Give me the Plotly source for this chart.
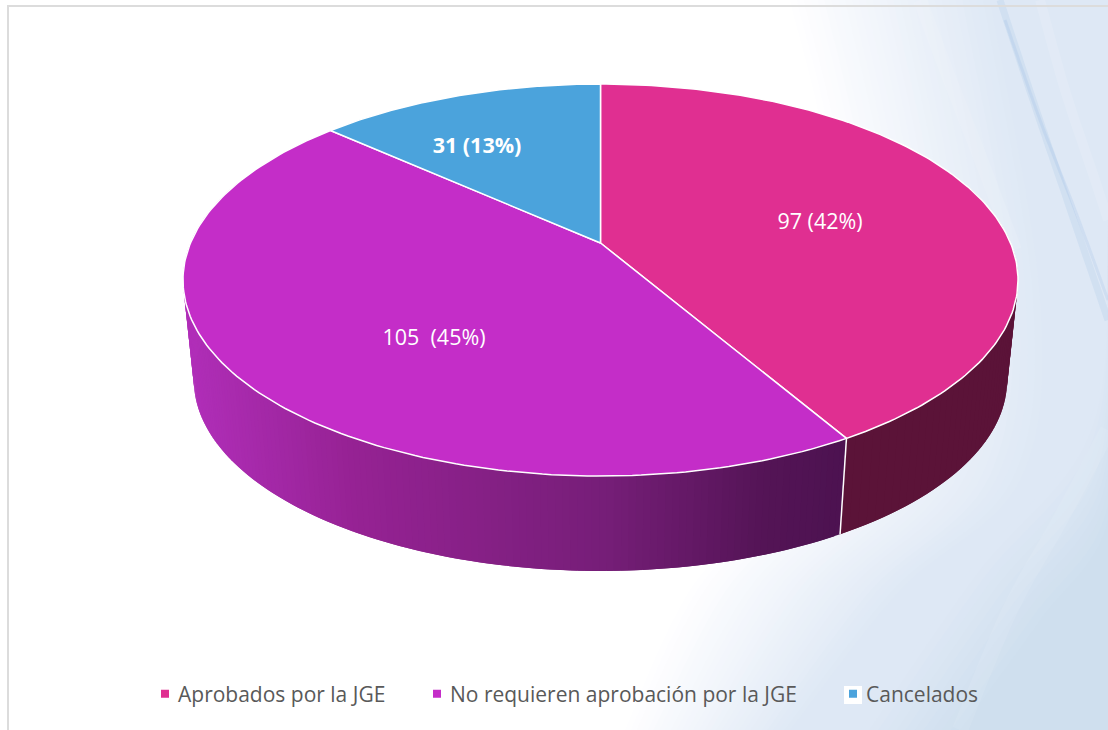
import numpy as np
import plotly.graph_objects as go

# ---- data ----
categories = ["Aprobados por la JGE", "No requieren aprobación por la JGE", "Cancelados"]
values = [97, 105, 31]
value_labels = ["97 (42%)", "105\u00a0 (45%)", "31 (13%)"]

# ---- style ----
top_colors = ["#E02F91", "#C42DC8", "#4BA3DC"]
FONT = "Open Sans"
W, H = 1108, 730
# perspective disc: apex position, radii and foreshortening
CX, CY, A, B, K = 600.5, 243.0, 410.0, 189.0, 0.1888
WALL_SCALE, WALL_DROP = 0.974, 101.0


def rim(theta_deg, scale=1.0, drop=0.0):
    t = np.radians(theta_deg)
    u, v = np.sin(t), np.cos(t)
    w = 1 + K * v
    return CX + scale * A * u / w, CY + drop - scale * B * v / w


def mix(stops, x):
    xs = [s[0] for s in stops]
    return "rgb({:.0f},{:.0f},{:.0f})".format(*[np.interp(x, xs, [s[1][i] for s in stops]) for i in range(3)])


def smooth(pts, n=14):
    p = np.array([pts[0]] + list(pts) + [pts[-1]], float)
    out = []
    for i in range(1, len(p) - 2):
        for s in np.linspace(0, 1, n, endpoint=False):
            out.append(0.5 * ((2 * p[i]) + (p[i + 1] - p[i - 1]) * s
                              + (2 * p[i - 1] - 5 * p[i] + 4 * p[i + 1] - p[i + 2]) * s ** 2
                              + (3 * p[i] - p[i - 1] - 3 * p[i + 1] + p[i + 2]) * s ** 3))
    out.append(p[-1])
    return np.array(out)


def path(points, close=True):
    d = "M " + " L ".join(f"{x:.1f} {y:.1f}" for x, y in points)
    return d + (" Z" if close else "")


shapes = []


def band(outer, inner, layers, c0, c1):
    for i in range(layers):
        f = i / max(layers - 1, 1)
        edge = smooth([(a[0] + (b[0] - a[0]) * f, a[1] + (b[1] - a[1]) * f) for a, b in zip(outer, inner)])
        poly = list(map(tuple, edge)) + [(W, H), (W, 0)]
        shapes.append(dict(type="path", path=path(poly), xref="x", yref="y", layer="below",
                           line=dict(width=0), fillcolor=mix([(0, c0), (1, c1)], f)))


# soft background wash, opaque nested layers from white to pale blue
band([(790, 0), (830, 200), (800, 450), (690, 590), (625, 730)],
     [(990, 0), (1040, 300), (1020, 480), (900, 590), (790, 730)], 30, (254, 254, 255), (222, 232, 245))
band([(1108, 0), (1108, 200), (1090, 420), (970, 570), (860, 730)],
     [(1108, 0), (1108, 340), (1108, 520), (1040, 620), (960, 730)], 12, (222, 232, 245), (207, 223, 238))

# streaks in the wash
for pts, width, col in [
    ([(1000, 0), (1033, 100), (1067, 200), (1108, 320)], 7, "rgba(150,188,228,0.18)"),
    ([(1005, 20), (1040, 120), (1075, 210), (1108, 300)], 3, "rgba(140,180,225,0.18)"),
    ([(1040, 0), (1065, 90), (1095, 180), (1108, 220)], 10, "rgba(255,255,255,0.12)"),
    ([(920, 0), (950, 80), (985, 170), (1015, 250)], 14, "rgba(255,255,255,0.10)"),
    ([(1108, 430), (1060, 520), (1010, 610), (960, 730)], 16, "rgba(255,255,255,0.08)"),
]:
    shapes.append(dict(type="path", path=path(list(map(tuple, smooth(pts))), close=False),
                       xref="x", yref="y", layer="below", line=dict(width=width, color=col)))

# frame
shapes.append(dict(type="rect", x0=8, y0=6, x1=W + 20, y1=H + 20, xref="x", yref="y", layer="below",
                   line=dict(color="#DCDCDC", width=2)))
# white tile behind the third legend key
shapes.append(dict(type="rect", x0=844, y0=686, x1=862, y1=704, xref="x", yref="y", layer="below",
                   line=dict(width=0), fillcolor="white"))

fig = go.Figure()

# slice angles from the values, clockwise from the top
total = sum(values)
edges = np.cumsum([0] + values) / total * 360


def wall(start, stop, steps, colour):
    th = np.linspace(start, stop, steps)
    for i in range(len(th) - 1):
        seg = np.linspace(th[i], th[min(i + 2, len(th) - 1)], 4)
        xa, ya = rim(seg)
        xb, yb = rim(seg, WALL_SCALE, WALL_DROP)
        c = colour(float(np.mean(np.r_[xa, xb])))
        fig.add_trace(go.Scatter(x=np.r_[xa, xb[::-1]], y=np.r_[ya, yb[::-1]], mode="lines", fill="toself",
                                 fillcolor=c, line=dict(width=0),
                                 showlegend=False, hoverinfo="skip"))


# outer wall: dark pink part, flat; purple part shaded across its width
wall_stops = [(190, (176, 46, 184)), (350, (150, 34, 148)), (600, (118, 30, 120)), (760, (84, 20, 86)), (845, (76, 18, 80))]
wall(70, edges[1], 60, lambda x: "#5B1338")
wall(edges[1], 292, 170, lambda x: mix(wall_stops, x))

# seam between the two wall parts
sx1, sy1 = rim(edges[1])
sx2, sy2 = rim(edges[1], WALL_SCALE, WALL_DROP)
fig.add_trace(go.Scatter(x=[sx1, sx2], y=[sy1, sy2], mode="lines", line=dict(color="white", width=1.5),
                         showlegend=False, hoverinfo="skip"))

# top faces
for i, name in enumerate(categories):
    th = np.linspace(edges[i], edges[i + 1], 160)
    rx, ry = rim(th)
    fig.add_trace(go.Scatter(x=np.r_[CX, rx, CX], y=np.r_[CY, ry, CY], mode="lines", fill="toself",
                             fillcolor=top_colors[i], line=dict(color="white", width=1.5),
                             name=name, text=f"{name}: {value_labels[i]}", hoverinfo="text", showlegend=False))

# value labels
label_xy = [(820, 224), (434, 340), (477, 148)]
for i, txt in enumerate(value_labels):
    fig.add_trace(go.Scatter(x=[label_xy[i][0]], y=[label_xy[i][1]], mode="text",
                             text=[f"<b>{txt}</b>" if i == 2 else txt], textposition="middle center",
                             textfont=dict(family=FONT, size=21.5, color="white"),
                             showlegend=False, hoverinfo="skip"))

# legend keys, one positioned legend per category
legend_x = [145, 417, 833]
legends = {}
for i, name in enumerate(categories):
    key = "legend" if i == 0 else f"legend{i + 1}"
    fig.add_trace(go.Scatter(x=[None], y=[None], mode="markers", name=name, legend=key,
                             marker=dict(symbol="square", size=8, color=top_colors[i])))
    legends[key] = dict(x=legend_x[i] / W, xanchor="left", y=(H - 694) / H, yanchor="middle", indentation=-7,
                        bgcolor="rgba(0,0,0,0)", font=dict(family=FONT, size=21, color="#595959"))

fig.update_layout(width=W, height=H, margin=dict(l=0, r=0, t=0, b=0), autosize=False,
                  paper_bgcolor="white", plot_bgcolor="rgba(0,0,0,0)", shapes=shapes,
                  xaxis=dict(range=[0, W], visible=False, fixedrange=True),
                  yaxis=dict(range=[H, 0], visible=False, fixedrange=True),
                  **legends)

fig.write_html("out.html", config=dict(displayModeBar=False),
               post_script="document.body.style.margin='0';document.body.style.overflow='hidden';"
                           "document.querySelectorAll('.legendsymbols').forEach(function(g){"
                           "g.setAttribute('transform','translate(7,0)');});")
